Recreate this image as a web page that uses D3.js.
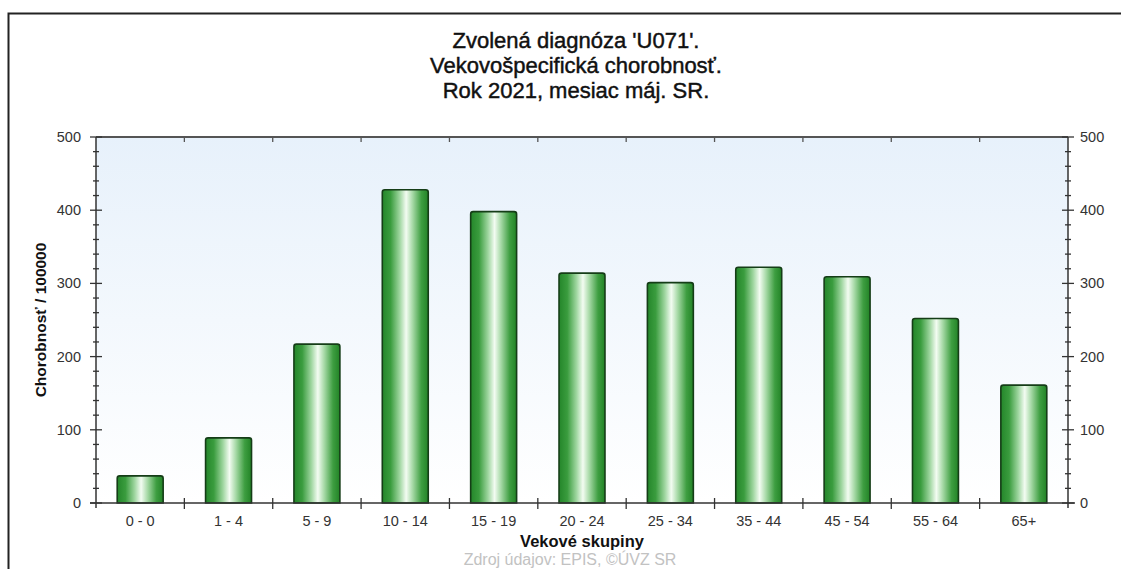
<!DOCTYPE html>
<html>
<head>
<meta charset="utf-8">
<script src="https://cdn.jsdelivr.net/npm/d3@7"></script>
<style>
  body { margin: 0; background: #fff; }
  svg { display: block; }
  text { font-family: "Liberation Sans", Arial, sans-serif; }
</style>
</head>
<body>
<svg id="chart" width="1121" height="569"></svg>
<script>
const categories = ["0 - 0", "1 - 4", "5 - 9", "10 - 14", "15 - 19", "20 - 24", "25 - 34", "35 - 44", "45 - 54", "55 - 64", "65+"];
const values = [37, 89, 217, 428, 398, 314, 301, 322, 309, 252, 161];
const yTicks = [0, 100, 200, 300, 400, 500];
const titleLines = ["Zvolená diagnóza 'U071'.", "Vekovošpecifická chorobnosť.", "Rok 2021, mesiac máj. SR."];
const xTitle = "Vekové skupiny";
const yTitle = "Chorobnosť / 100000";
const sourceText = "Zdroj údajov: EPIS, ©ÚVZ SR";

const svg = d3.select("#chart");
const L = 96, R = 1068, T = 137, B = 503;

const defs = svg.append("defs");
const bg = defs.append("linearGradient").attr("id", "bg").attr("x1", 0).attr("y1", 0).attr("x2", 0).attr("y2", 1);
bg.append("stop").attr("offset", "0%").attr("stop-color", "#e7f1fb");
bg.append("stop").attr("offset", "100%").attr("stop-color", "#ffffff");

const bg2 = defs.append("linearGradient").attr("id", "barg").attr("x1", 0).attr("y1", 0).attr("x2", 1).attr("y2", 0);
[[0, "#24862a"], [0.18, "#3a9c3e"], [0.38, "#9fd6a0"], [0.52, "#f3fcf2"], [0.66, "#a6d9a6"], [0.85, "#3e9e41"], [1, "#228326"]]
  .forEach(([o, c]) => bg2.append("stop").attr("offset", o).attr("stop-color", c));

// outer frame
svg.append("path").attr("d", "M8.5,569 L8.5,13.5 L1121,13.5").attr("fill", "none").attr("stroke", "#222").attr("stroke-width", 2);

// title
svg.append("g").selectAll("text").data(titleLines).join("text")
  .attr("x", 576).attr("y", (d, i) => 48 + i * 25)
  .attr("text-anchor", "middle").attr("font-size", 22).attr("fill", "#111")
  .attr("stroke", "#111").attr("stroke-width", 0.45)
  .text(d => d);

const x = d3.scaleBand().domain(categories).range([L, R]).paddingInner(0.48).paddingOuter(0.24);
const xb = d3.scaleLinear().domain([0, categories.length]).range([L, R]);
const y = d3.scaleLinear().domain([0, 500]).range([B, T]);

// plot background
svg.append("rect").attr("x", L).attr("y", T).attr("width", R - L).attr("height", B - T).attr("fill", "url(#bg)");

// bars
svg.append("g").selectAll("path").data(values).join("path")
  .attr("d", (d, i) => {
    const x0 = x(categories[i]), w = x.bandwidth(), y0 = y(d), r = 2.5;
    return `M${x0},${B} L${x0},${y0 + r} Q${x0},${y0} ${x0 + r},${y0} L${x0 + w - r},${y0} Q${x0 + w},${y0} ${x0 + w},${y0 + r} L${x0 + w},${B} Z`;
  })
  .attr("fill", "url(#barg)").attr("stroke", "#153d17").attr("stroke-width", 1.6);

// axes lines
const ax = svg.append("g").attr("stroke", "#333").attr("fill", "none");
ax.append("line").attr("x1", L).attr("x2", R).attr("y1", T).attr("y2", T).attr("stroke", "#555").attr("stroke-width", 2);
ax.append("line").attr("x1", L).attr("x2", L).attr("y1", T).attr("y2", B + 5).attr("stroke-width", 1.5);
ax.append("line").attr("x1", R).attr("x2", R).attr("y1", T).attr("y2", B + 5).attr("stroke-width", 1.5);
ax.append("line").attr("x1", L - 6).attr("x2", R + 7).attr("y1", B).attr("y2", B).attr("stroke-width", 1.5);

// y ticks (major and minor) on both sides
const minor = d3.range(0, 501, 20).filter(v => v % 100 !== 0);
[L, R].forEach(ax0 => {
  const g = svg.append("g").attr("stroke", "#333").attr("stroke-width", 1.3);
  g.selectAll(".mj").data(yTicks).join("line").attr("class", "mj")
    .attr("x1", ax0 - 6).attr("x2", ax0 + 6).attr("y1", d => y(d)).attr("y2", d => y(d));
  g.selectAll(".mn").data(minor).join("line").attr("class", "mn")
    .attr("x1", ax0 - 3).attr("x2", ax0 + 3).attr("y1", d => y(d)).attr("y2", d => y(d));
});

// x boundary ticks
const bounds = d3.range(1, categories.length);
svg.append("g").attr("stroke", "#333").attr("stroke-width", 1.3).selectAll("line").data(bounds).join("line")
  .attr("x1", d => xb(d)).attr("x2", d => xb(d)).attr("y1", B - 5).attr("y2", B + 6);
svg.append("g").attr("stroke", "#555").attr("stroke-width", 1.3).selectAll("line").data(bounds).join("line")
  .attr("x1", d => xb(d)).attr("x2", d => xb(d)).attr("y1", T).attr("y2", T + 5);

// y labels
svg.append("g").selectAll("text").data(yTicks).join("text")
  .attr("x", L - 15).attr("y", d => y(d) + 5).attr("text-anchor", "end")
  .attr("font-size", 14.5).attr("fill", "#333").text(d => d);
svg.append("g").selectAll("text").data(yTicks).join("text")
  .attr("x", R + 12).attr("y", d => y(d) + 5).attr("text-anchor", "start")
  .attr("font-size", 14.5).attr("fill", "#333").text(d => d);

// x labels
svg.append("g").selectAll("text").data(categories).join("text")
  .attr("x", d => x(d) + x.bandwidth() / 2).attr("y", 526).attr("text-anchor", "middle")
  .attr("font-size", 14.5).attr("fill", "#333").text(d => d);

// axis titles
svg.append("text").attr("x", (L + R) / 2).attr("y", 547).attr("text-anchor", "middle")
  .attr("font-size", 16.5).attr("font-weight", "bold").attr("fill", "#111").text(xTitle);
svg.append("text").attr("transform", `translate(46,${(T + B) / 2}) rotate(-90)`).attr("text-anchor", "middle")
  .attr("font-size", 15.5).attr("font-weight", "bold").attr("fill", "#111").text(yTitle);

// source
svg.append("text").attr("x", 570).attr("y", 565).attr("text-anchor", "middle")
  .attr("font-size", 16).attr("fill", "#c2c2c2").text(sourceText);
</script>
</body>
</html>
